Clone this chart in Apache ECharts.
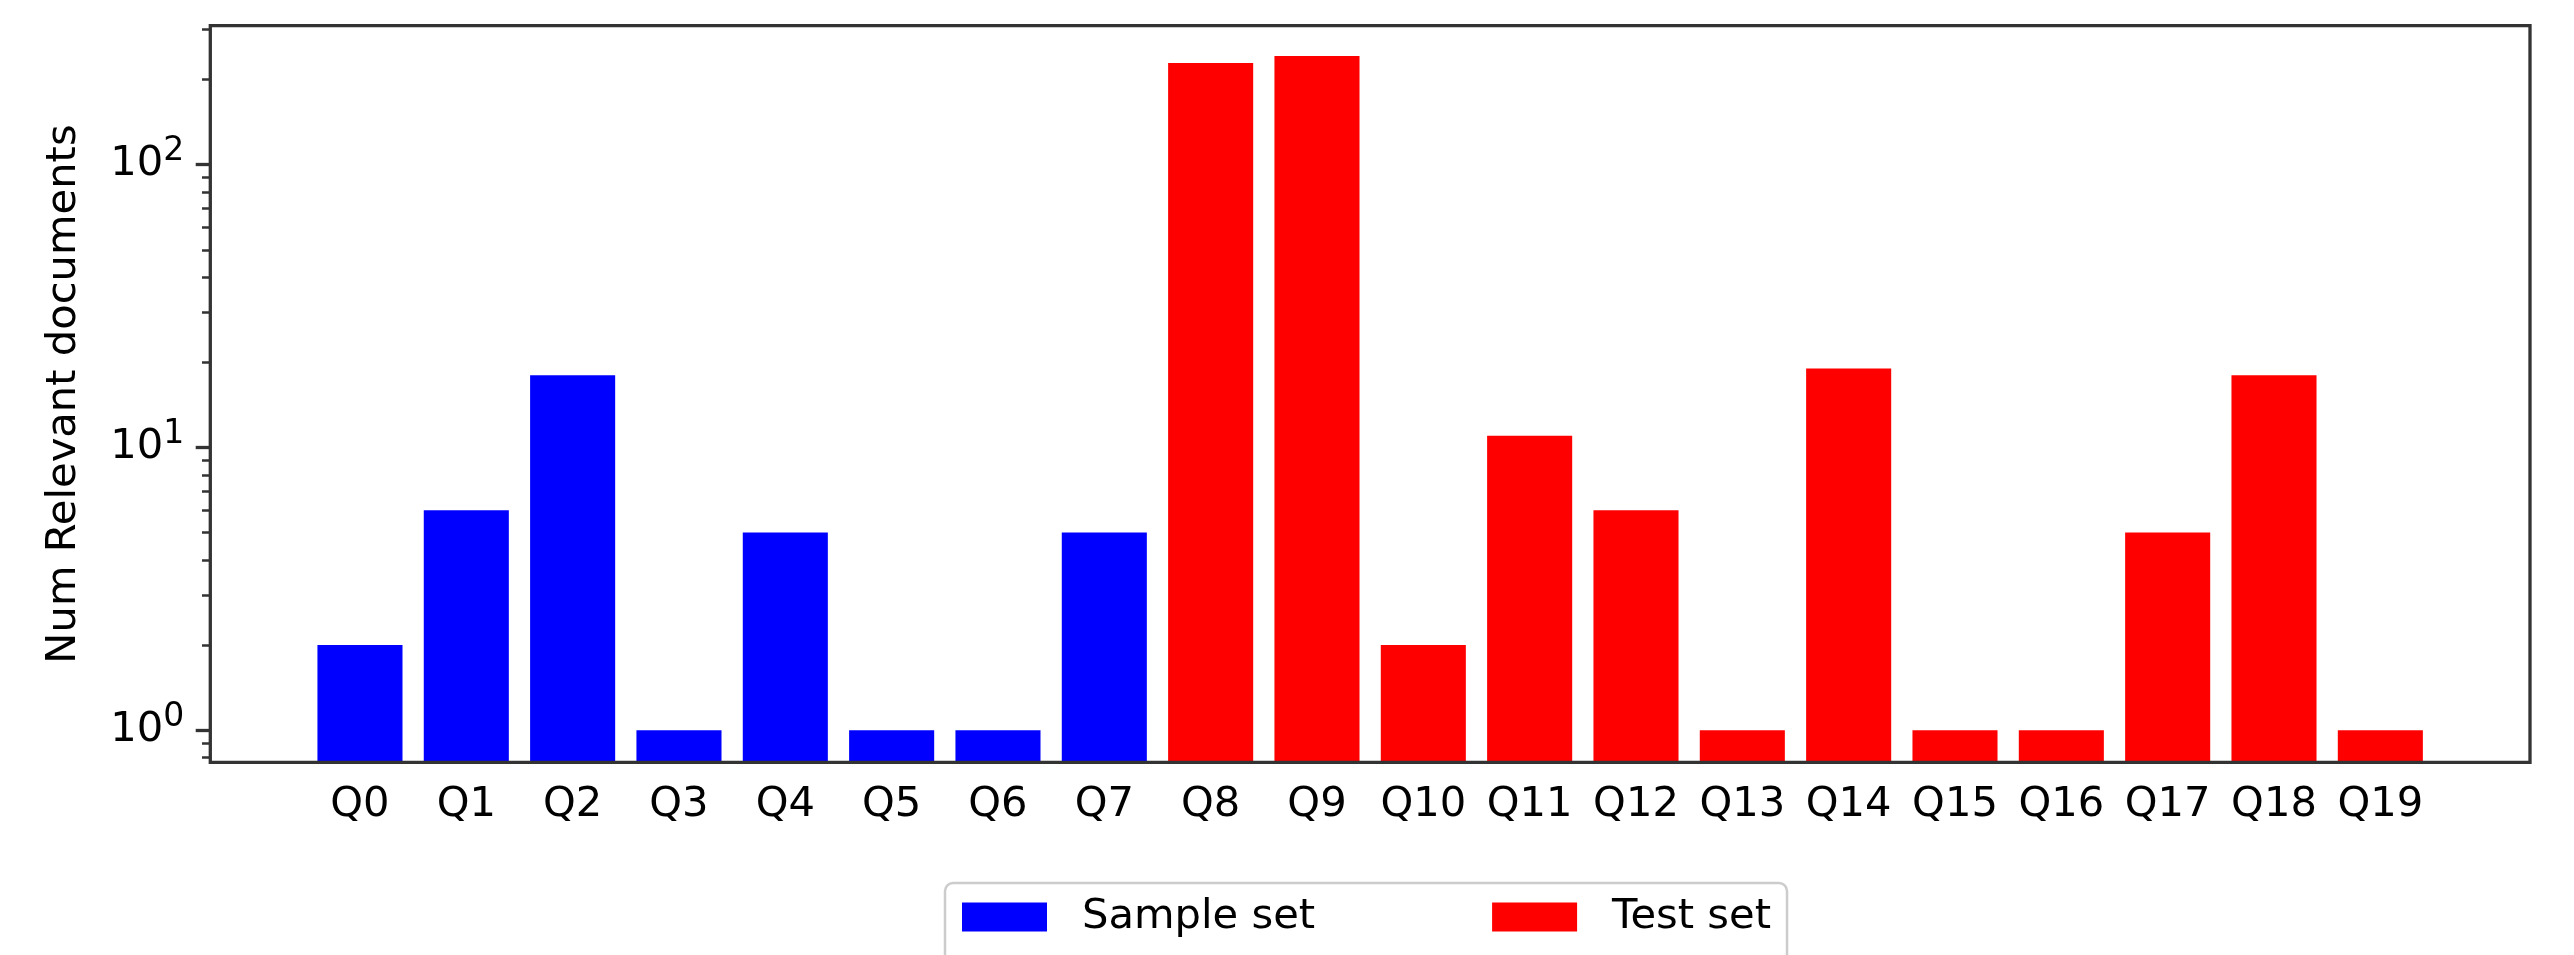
<!DOCTYPE html>
<html>
<head>
<meta charset="utf-8">
<script src="https://cdn.jsdelivr.net/npm/echarts@6/dist/echarts.min.js"></script>
<style>
  html, body { margin: 0; padding: 0; background: #fff; }
  #chart { width: 2574px; height: 955px; }
</style>
</head>
<body>
<div id="chart"></div>
<script>
const categories = ["Q0", "Q1", "Q2", "Q3", "Q4", "Q5", "Q6", "Q7", "Q8", "Q9",
  "Q10", "Q11", "Q12", "Q13", "Q14", "Q15", "Q16", "Q17", "Q18", "Q19"];
const sampleCounts = [2, 6, 18, 1, 5, 1, 1, 5];                 // Q0..Q7
const testCounts = [229, 242, 2, 11, 6, 1, 19, 1, 1, 5, 18, 1]; // Q8..Q19
const yMajorTicks = [1, 10, 100];
const yMinorTicks = [0.8, 0.9, 2, 3, 4, 5, 6, 7, 8, 9, 20, 30, 40, 50, 60, 70, 80, 90, 200, 300];
const yMin = 0.77;
const yMax = 310;

const FS = 41.67;
const FONT = "DejaVu Sans";
const SPINE = "#333";

// pad each set out to the full category list
const sampleData = categories.map((c, i) => (i < sampleCounts.length ? sampleCounts[i] : "-"));
const testData = categories.map((c, i) =>
  i >= sampleCounts.length ? testCounts[i - sampleCounts.length] : "-"
);

// log axis sharing the plot grid, drawn at the left spine
const logAxis = extra => Object.assign({
  type: "log",
  logBase: 10,
  gridIndex: 0,
  position: "left",
  min: yMin,
  max: yMax,
  offset: 96.5,
  axisLine: { show: false },
  splitLine: { show: false },
  axisLabel: { show: false },
  axisTick: { show: false }
}, extra);

const chart = echarts.init(document.getElementById("chart"));

chart.setOption({
  backgroundColor: "#fff",
  animation: false,
  textStyle: { fontFamily: FONT },
  grid: [
    { left: 306.8, right: 140.5, top: 25.7, bottom: 192.7 },
    // frame only (the spines)
    { left: 210.3, right: 44, top: 25.7, bottom: 192.7, show: true, borderColor: SPINE, borderWidth: 3.3, z: 5 }
  ],
  xAxis: [
    {
      type: "category",
      gridIndex: 0,
      data: categories,
      axisLine: { show: false },
      axisTick: { alignWithLabel: true, length: 14.6, lineStyle: { color: SPINE, width: 3.3 } },
      axisLabel: { interval: 0, color: "#000", fontSize: FS, fontFamily: FONT, margin: 22 }
    },
    { type: "value", gridIndex: 1, show: false }
  ],
  yAxis: [
    logAxis({
      startValue: yMin,
      axisLabel: {
        customValues: yMajorTicks,
        margin: 26,
        formatter: v => "{b|10}{sup|" + Math.round(Math.log10(v)) + "}",
        rich: {
          b: { fontSize: FS, fontFamily: FONT, color: "#000", lineHeight: 59 },
          sup: { fontSize: 33, fontFamily: FONT, color: "#000", lineHeight: 33, verticalAlign: "top" }
        }
      },
      name: "Num Relevant documents",
      nameLocation: "middle",
      nameGap: 125,
      nameTextStyle: { fontSize: FS, fontFamily: FONT, color: "#000" }
    }),
    logAxis({
      axisTick: { show: true, length: 14.6, lineStyle: { color: SPINE, width: 3.3 }, customValues: yMajorTicks }
    }),
    logAxis({
      axisTick: { show: true, length: 8.3, lineStyle: { color: SPINE, width: 2.5 }, customValues: yMinorTicks }
    }),
    { type: "value", gridIndex: 1, show: false }
  ],
  legend: {
    left: 945,
    top: 883,
    padding: [9, 16, 40, 17],
    itemWidth: 85,
    itemHeight: 29,
    itemGap: 177,
    icon: "rect",
    backgroundColor: "#fff",
    borderColor: "#cccccc",
    borderWidth: 2.5,
    borderRadius: 8,
    textStyle: { fontSize: FS, fontFamily: FONT, color: "#000", padding: [0, 0, 0, 30], lineHeight: 50 },
    data: ["Sample set", "Test set"]
  },
  series: [
    {
      name: "Sample set",
      type: "bar",
      yAxisIndex: 0,
      data: sampleData,
      barWidth: "80%",
      barGap: "-100%",
      itemStyle: { color: "#0000ff" }
    },
    {
      name: "Test set",
      type: "bar",
      yAxisIndex: 0,
      data: testData,
      barWidth: "80%",
      barGap: "-100%",
      itemStyle: { color: "#ff0000" }
    }
  ]
});

window.addEventListener("resize", () => chart.resize());
</script>
</body>
</html>
